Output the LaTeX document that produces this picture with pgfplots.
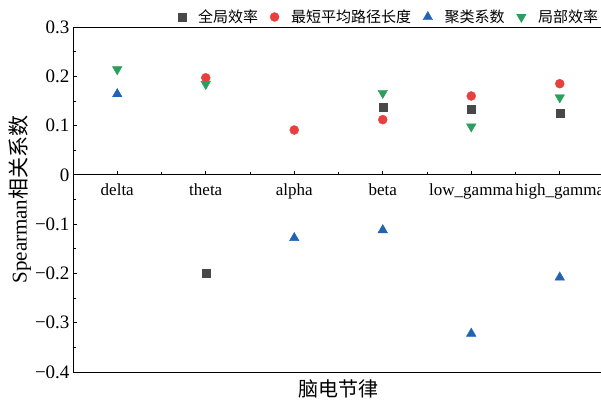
\documentclass[border=0pt]{standalone}
\usepackage{pgfplots}
\pgfplotsset{compat=1.18}
\usepackage{fontspec}
\setmainfont{Liberation Serif}
\newfontfamily\cjk{Noto Sans CJK SC}
\definecolor{cgray}{RGB}{72,72,72}
\definecolor{cred}{RGB}{232,64,62}
\definecolor{cblue}{RGB}{35,100,178}
\definecolor{cgreen}{RGB}{44,158,94}
\begin{document}
\begin{tikzpicture}
\path[use as bounding box] (-73pt,-29pt) rectangle (528pt,372pt);
\begin{axis}[
  at={(0pt,0pt)}, anchor=south west, scale only axis,
  width=531pt, height=345pt,
  xmin=-0.5, xmax=5.5, ymin=-0.4, ymax=0.3,
  xtick=\empty,
  ytick={-0.4,-0.3,-0.2,-0.1,0,0.1,0.2,0.3},
  yticklabels={−0.4,−0.3,−0.2,−0.1,0,0.1,0.2,0.3},
  minor ytick={-0.35,-0.25,-0.15,-0.05,0.05,0.15,0.25},
  ytick pos=left, tick align=inside,
  major tick length=4pt, minor tick length=2.5pt,
  every tick/.style={black, line width=0.8pt},
  axis line style={line width=0.9pt},
  yticklabel style={font=\fontsize{19}{22}\selectfont},
  ylabel={Spearman{\cjk 相关系数}},
  ylabel style={font=\fontsize{21}{24}\selectfont, at={(axis description cs:-0.0998,0.5)}, anchor=center},
  xlabel={\cjk 脑电节律},
  xlabel style={font=\fontsize{20}{24}\selectfont, at={(axis description cs:0.5,-0.049)}, anchor=center},
  legend columns=4,
  legend style={draw=none, fill=none, inner sep=0pt,
    at={(axis description cs:0.1975,1.029)}, anchor=west,
    font=\cjk\fontsize{15}{18}\selectfont,
    /tikz/every odd column/.append style={column sep=10pt},
    /tikz/every even column/.append style={column sep=10pt}},
]
\addplot[only marks, mark=square*, mark size=4pt, color=cgray] coordinates {
 (1,-0.199) (3,0.138) (4,0.133) (5,0.126)};
\addlegendentry{全局效率}
\addplot[only marks, mark=*, mark size=4.5pt, color=cred] coordinates {
 (1,0.197) (2,0.091) (3,0.112) (4,0.160) (5,0.185)};
\addlegendentry{最短平均路径长度}
\addplot[only marks, mark=triangle*, mark size=5.5pt, color=cblue] coordinates {
 (0,0.164) (2,-0.128) (3,-0.112) (4,-0.322) (5,-0.208)};
\addlegendentry{聚类系数}
\addplot[only marks, mark=triangle*, mark options={rotate=180}, mark size=5.5pt, color=cgreen] coordinates {
 (0,0.214) (1,0.184) (3,0.166) (4,0.098) (5,0.157)};
\addlegendentry{局部效率}
\end{axis}
\begin{axis}[
  at={(0pt,197.14pt)}, anchor=south west, scale only axis,
  width=531pt, height=50pt,
  xmin=-0.5, xmax=5.5, ymin=0, ymax=1,
  axis x line=bottom, axis y line=none,
  axis line style={-, line width=0.9pt},
  xtick={0,1,2,3,4,5},
  xticklabels={delta,theta,alpha,beta,low\_gamma,high\_gamma},
  minor xtick={0.5,1.5,2.5,3.5,4.5}, tick align=inside,
  major tick length=4pt, minor tick length=2.5pt,
  every tick/.style={black, line width=0.8pt},
  xticklabel style={font=\fontsize{17}{20}\selectfont, yshift=-5pt},
]
\end{axis}
\end{tikzpicture}
\end{document}
